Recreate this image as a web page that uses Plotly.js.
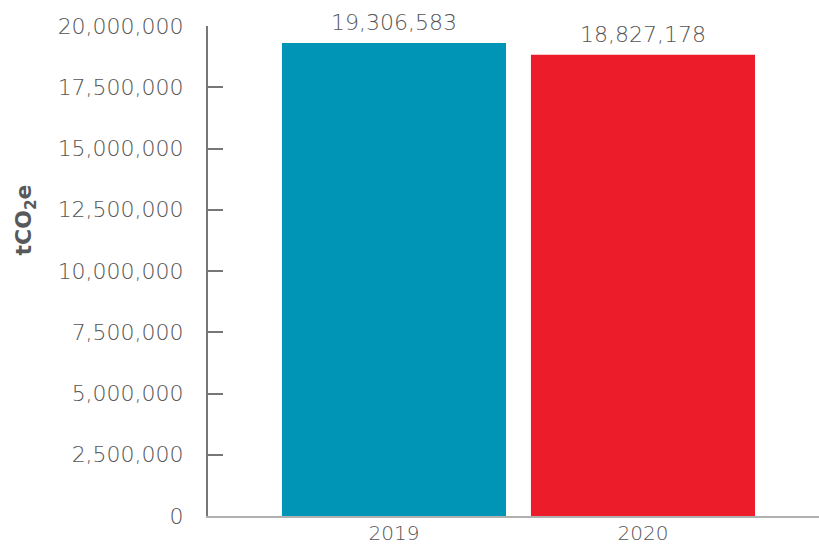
<!DOCTYPE html>
<html>
<head>
<meta charset="utf-8">
<script src="https://cdn.plot.ly/plotly-3.0.1.min.js"></script>
<style>html,body{margin:0;padding:0;background:#fff;}#chart{width:819px;height:546px;}</style>
</head>
<body>
<div id="chart"></div>
<script>
const years = ['2019', '2020'];
const emissions = [19306583, 18827178];
const barColors = ['#0095B6', '#ED1C2A'];
const yTickVals = [0, 2500000, 5000000, 7500000, 10000000, 12500000, 15000000, 17500000, 20000000];
const yTickText = ['0', '2,500,000', '5,000,000', '7,500,000', '10,000,000', '12,500,000', '15,000,000', '17,500,000', '20,000,000'];

const fmt = v => v.toLocaleString('en-US');
const FONT = 'DejaVu Sans';
const GREY = '#555555';

const trace = {
  type: 'bar',
  x: years,
  y: emissions,
  marker: {color: barColors},
  hoverinfo: 'none'
};

const annotations = years.map((yr, i) => ({
  x: i, y: emissions[i], xref: 'x', yref: 'y',
  text: fmt(emissions[i]), showarrow: false,
  xanchor: 'center', yanchor: 'bottom', yshift: 6,
  font: {family: FONT, size: 22, color: GREY, weight: 300}
}));
annotations.push({
  xref: 'paper', yref: 'paper', x: -0.298, y: 0.605,
  xanchor: 'center', yanchor: 'middle', textangle: -90,
  text: '<b>tCO<sub>2</sub>e</b>', showarrow: false,
  font: {family: FONT, size: 22, color: '#58595b'}
});

const layout = {
  width: 819, height: 546,
  margin: {l: 208, r: 0, t: 26, b: 30, pad: 0},
  paper_bgcolor: '#fff', plot_bgcolor: '#fff',
  bargap: 0.1,
  showlegend: false,
  xaxis: {
    type: 'category', range: [-0.747, 1.707],
    showline: true, linecolor: '#b0b0b0', linewidth: 2,
    ticks: '', showgrid: false, zeroline: false,
    tickfont: {family: FONT, size: 20, color: GREY, weight: 300},
    ticklabelstandoff: -2
  },
  yaxis: {
    range: [0, 20000000], tickmode: 'array', tickvals: yTickVals, ticktext: yTickText,
    showline: true, linecolor: '#777', linewidth: 2,
    ticks: 'inside', ticklen: 15, tickwidth: 2, tickcolor: '#777',
    showgrid: false, zeroline: false,
    tickfont: {family: FONT, size: 22, color: GREY, weight: 300},
    ticklabelstandoff: 18
  },
  annotations: annotations
};

Plotly.newPlot('chart', [trace], layout, {displayModeBar: false, staticPlot: true});
</script>
</body>
</html>
